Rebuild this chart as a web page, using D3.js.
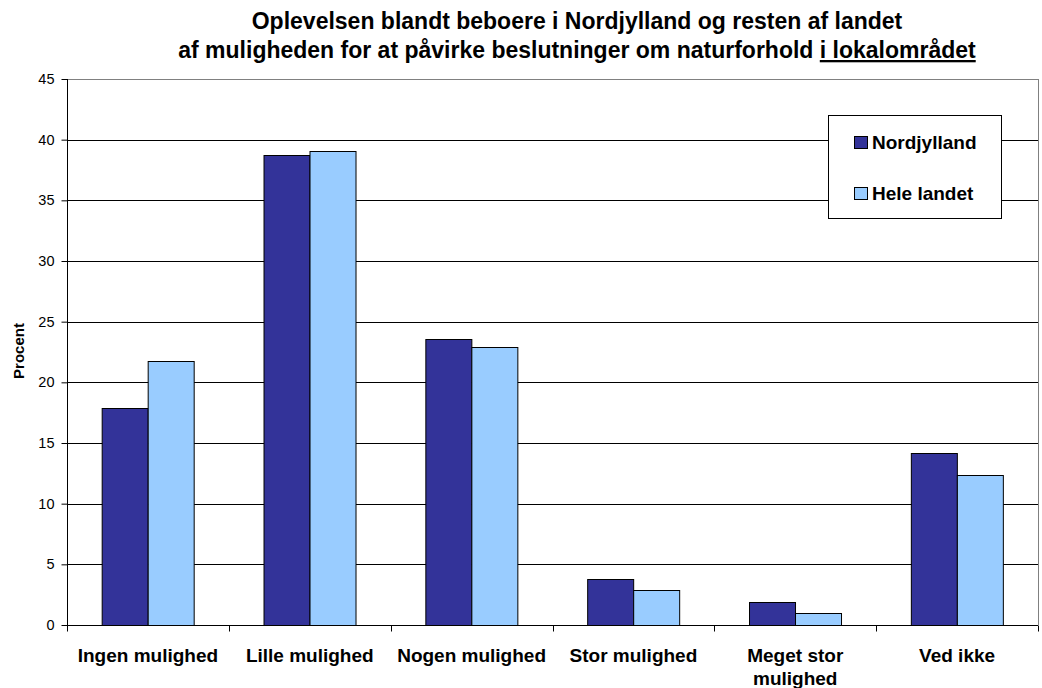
<!DOCTYPE html>
<html><head><meta charset="utf-8">
<script src="https://cdn.jsdelivr.net/npm/d3@7"></script>
<style>body{margin:0;background:#fff}svg{display:block;font-family:Arial,"Liberation Sans",sans-serif}</style>
</head><body>
<script>
const categories = ["Ingen mulighed","Lille mulighed","Nogen mulighed","Stor mulighed","Meget stor mulighed","Ved ikke"];
const seriesNames = ["Nordjylland","Hele landet"];
const nordjylland = [17.9, 38.7, 23.6, 3.8, 1.9, 14.15];
const heleLandet = [21.75, 39.05, 22.95, 2.9, 0.95, 12.35];
const yTicks = [0,5,10,15,20,25,30,35,40,45];
const colors = ["#333399","#99CCFF"];

const W=1042,H=688;
const m={left:67,right:1038,top:79,bottom:625};
const svg=d3.select("body").append("svg").attr("width",W).attr("height",H);

const x=d3.scaleBand().domain(categories).range([m.left,m.right]).paddingInner(0).paddingOuter(0);
const bw=x.bandwidth()/3.5;
const xs=d3.scaleBand().domain(seriesNames).range([0,bw*2]);
const y=d3.scaleLinear().domain([0,45]).range([m.bottom,m.top]);

// gridlines
svg.append("g").selectAll("line").data(yTicks.filter(d=>d>0)).join("line")
 .attr("x1",m.left).attr("x2",m.right)
 .attr("y1",d=>Math.round(y(d))+0.5).attr("y2",d=>Math.round(y(d))+0.5)
 .attr("stroke",d=>d===45?"#808080":"#000").attr("stroke-width",1);
svg.append("line").attr("x1",m.right+0.5).attr("x2",m.right+0.5).attr("y1",m.top).attr("y2",m.bottom).attr("stroke","#808080");

// bars
const data=categories.map((c,i)=>({c,vals:[nordjylland[i],heleLandet[i]]}));
const gcat=svg.append("g").selectAll("g").data(data).join("g")
 .attr("transform",d=>`translate(${x(d.c)+x.bandwidth()/2-bw},0)`);
gcat.selectAll("rect").data(d=>d.vals.map((v,k)=>({v,k}))).join("rect")
 .attr("x",d=>Math.round(xs(seriesNames[d.k]))+0.5)
 .attr("width",Math.round(bw))
 .attr("y",d=>Math.round(y(d.v))+0.5)
 .attr("height",d=>y(0)-Math.round(y(d.v)))
 .attr("fill",d=>colors[d.k]).attr("stroke","#000").attr("stroke-width",1);

// y axis
const ya=svg.append("g").attr("transform",`translate(${m.left+0.5},0)`)
 .call(d3.axisLeft(y).tickValues(yTicks).tickSize(6).tickPadding(7).tickFormat(d3.format("d")));
ya.select(".domain").attr("stroke","#000").attr("d",`M0,${m.top}V${m.bottom}`);
ya.selectAll(".tick line").attr("stroke","#000");
ya.selectAll("text").attr("font-size",14.5).attr("fill","#000").attr("font-family","Arial,'Liberation Sans',sans-serif");

// x axis
const xa=svg.append("g").attr("transform",`translate(0,${m.bottom+0.5})`)
 .call(d3.axisBottom(x).tickSize(0).tickFormat(""));
xa.select(".domain").attr("stroke","#000").attr("d",`M${m.left},0H${m.right}`);
xa.selectAll(".tick line").remove();
const bounds=d3.range(0,categories.length+1).map(i=>m.left+i*x.bandwidth());
xa.selectAll("line.bt").data(bounds).join("line").attr("class","bt")
 .attr("x1",d=>Math.round(d)+0.5).attr("x2",d=>Math.round(d)+0.5).attr("y1",0).attr("y2",6).attr("stroke","#000");

// x labels
const labLines={"Meget stor mulighed":["Meget stor","mulighed"]};
categories.forEach(c=>{
  const lines=labLines[c]||[c];
  const t=svg.append("text").attr("x",x(c)+x.bandwidth()/2).attr("y",662)
   .attr("text-anchor","middle").attr("font-weight","bold").attr("font-size",19);
  lines.forEach((l,i)=>t.append("tspan").attr("x",x(c)+x.bandwidth()/2).attr("dy",i?23:0).text(l));
});

// y label
svg.append("text").attr("transform","translate(24,351) rotate(-90)").attr("text-anchor","middle")
 .attr("font-weight","bold").attr("font-size",15).text("Procent");

// title
svg.append("text").attr("x",577).attr("y",29).attr("text-anchor","middle").attr("font-weight","bold").attr("font-size",23)
 .text("Oplevelsen blandt beboere i Nordjylland og resten af landet");
const t2=svg.append("text").attr("x",577).attr("y",58).attr("text-anchor","middle").attr("font-weight","bold").attr("font-size",23);
t2.append("tspan").text("af muligheden for at påvirke beslutninger om naturforhold ");
t2.append("tspan").attr("text-decoration","underline").text("i lokalområdet");

// legend
const lg=svg.append("g");
lg.append("rect").attr("x",828.5).attr("y",115.5).attr("width",173).attr("height",103).attr("fill","#fff").attr("stroke","#000");
seriesNames.forEach((s,i)=>{
  const yy=136+i*51;
  lg.append("rect").attr("x",854.5).attr("y",yy+0.5).attr("width",13).attr("height",12).attr("fill",colors[i]).attr("stroke","#000");
  lg.append("text").attr("x",872).attr("y",yy+13).attr("font-weight","bold").attr("font-size",19).text(s);
});
</script>
</body></html>
